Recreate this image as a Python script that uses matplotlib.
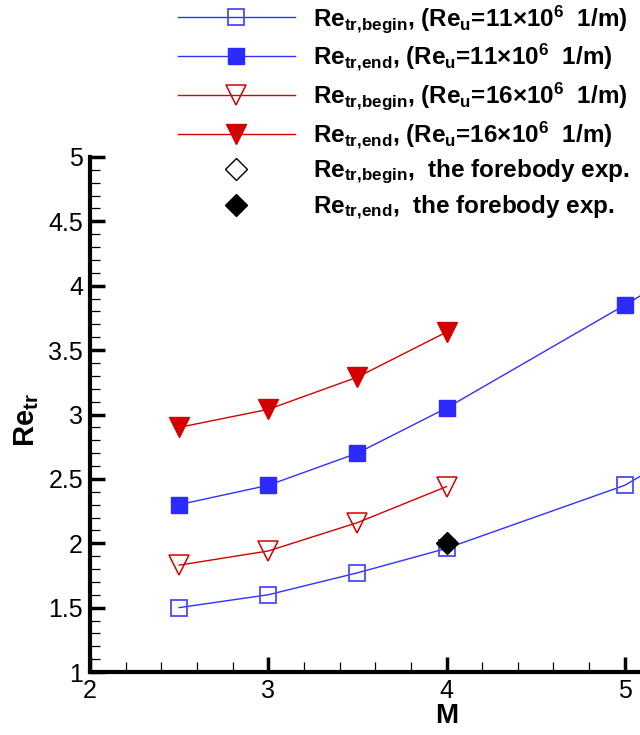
import matplotlib
matplotlib.use("Agg")
import matplotlib.pyplot as plt
from matplotlib.ticker import MultipleLocator, FixedLocator, FuncFormatter

plt.rcParams['font.family'] = ['Liberation Sans', 'DejaVu Sans']
plt.rcParams['mathtext.fontset'] = 'custom'
plt.rcParams['mathtext.rm'] = 'Liberation Sans:bold'
plt.rcParams['mathtext.it'] = 'Liberation Sans:bold'
plt.rcParams['mathtext.bf'] = 'Liberation Sans:bold'
plt.rcParams['mathtext.sf'] = 'Liberation Sans:bold'

# Mach numbers and transition Reynolds numbers (x10^6)
mach_11 = [2.5, 3.0, 3.5, 4.0, 5.0, 6.0]
re_begin_11 = [1.50, 1.60, 1.77, 1.96, 2.45, 3.26]
re_end_11 = [2.30, 2.45, 2.70, 3.05, 3.85, 4.67]

mach_16 = [2.5, 3.0, 3.5, 4.0]
re_begin_16 = [1.83, 1.94, 2.16, 2.44]
re_end_16 = [2.90, 3.04, 3.29, 3.64]

mach_exp_begin = []
re_exp_begin = []
mach_exp_end = [4.0]
re_exp_end = [2.00]

x_ticks = [2, 3, 4, 5]

labels = [
    r'Re$_{\rm tr{,}begin}$, (Re$_{\rm u}$=11$\times$10$^{6}$  1/m)',
    r'Re$_{\rm tr{,}end}$, (Re$_{\rm u}$=11$\times$10$^{6}$  1/m)',
    r'Re$_{\rm tr{,}begin}$, (Re$_{\rm u}$=16$\times$10$^{6}$  1/m)',
    r'Re$_{\rm tr{,}end}$, (Re$_{\rm u}$=16$\times$10$^{6}$  1/m)',
    r'Re$_{\rm tr{,}begin}$,  the forebody exp.',
    r'Re$_{\rm tr{,}end}$,  the forebody exp.',
]

blue = '#3030ff'
blue_open = '#4a4aff'
red = '#d40000'

fig = plt.figure(figsize=(6.4, 7.35), dpi=100)
ax = fig.add_axes([90 / 640, 63 / 735, 713 / 640, 515 / 735])

h1, = ax.plot(mach_11, re_begin_11, color=blue, lw=1.0, marker='s', ms=12,
              mfc='none', mec=blue_open, mew=1.3, label=labels[0])
h2, = ax.plot(mach_11, re_end_11, color=blue, lw=1.0, marker='s', ms=12,
              mfc='#2b2bff', mec='#2b2bff', label=labels[1])
h3, = ax.plot(mach_16, re_begin_16, color=red, lw=1.0, marker='v', ms=15,
              mfc='none', mec=red, mew=1.1, label=labels[2])
h4, = ax.plot(mach_16, re_end_16, color=red, lw=1.0, marker='v', ms=15,
              mfc=red, mec=red, label=labels[3])
h5, = ax.plot(mach_exp_begin, re_exp_begin, ls='none', marker='D', ms=11,
              mfc='white', mec='black', mew=1.0, label=labels[4])
h6, = ax.plot(mach_exp_end, re_exp_end, ls='none', marker='D', ms=11,
              mfc='black', mec='black', label=labels[5], zorder=5)

ax.set_xlim(2, 6)
ax.set_ylim(1, 5)

for side in ('top', 'right'):
    ax.spines[side].set_visible(False)
for side in ('left', 'bottom'):
    ax.spines[side].set_linewidth(3)

ax.xaxis.set_major_locator(FixedLocator(x_ticks))
ax.xaxis.set_minor_locator(MultipleLocator(0.2))
ax.yaxis.set_major_locator(MultipleLocator(0.5))
ax.yaxis.set_minor_locator(MultipleLocator(0.1))
fmt = FuncFormatter(lambda v, p: '%g' % v)
ax.xaxis.set_major_formatter(fmt)
ax.yaxis.set_major_formatter(fmt)

ax.tick_params(which='major', direction='in', length=11, width=2.5,
               labelsize=18, pad=5)
ax.tick_params(which='minor', direction='in', length=7, width=0.9)

ax.set_xlabel('M', fontsize=20, fontweight='bold', labelpad=0)
ax.set_ylabel(r'Re$_{\rm tr}$', fontsize=21, fontweight='bold')
ax.yaxis.set_label_coords(-0.069, 0.49)

fig.legend(handles=[h1, h2, h3, h4, h5, h6], loc='upper left',
           bbox_to_anchor=(178 / 640, 1 - 3 / 735), frameon=False,
           prop={'family': 'Liberation Sans', 'weight': 'bold', 'size': 17.5},
           numpoints=1, handlelength=4.8, handletextpad=0.74,
           labelspacing=0.3, borderpad=0.0, borderaxespad=0.0)

fig.savefig('out.png', dpi=100)
